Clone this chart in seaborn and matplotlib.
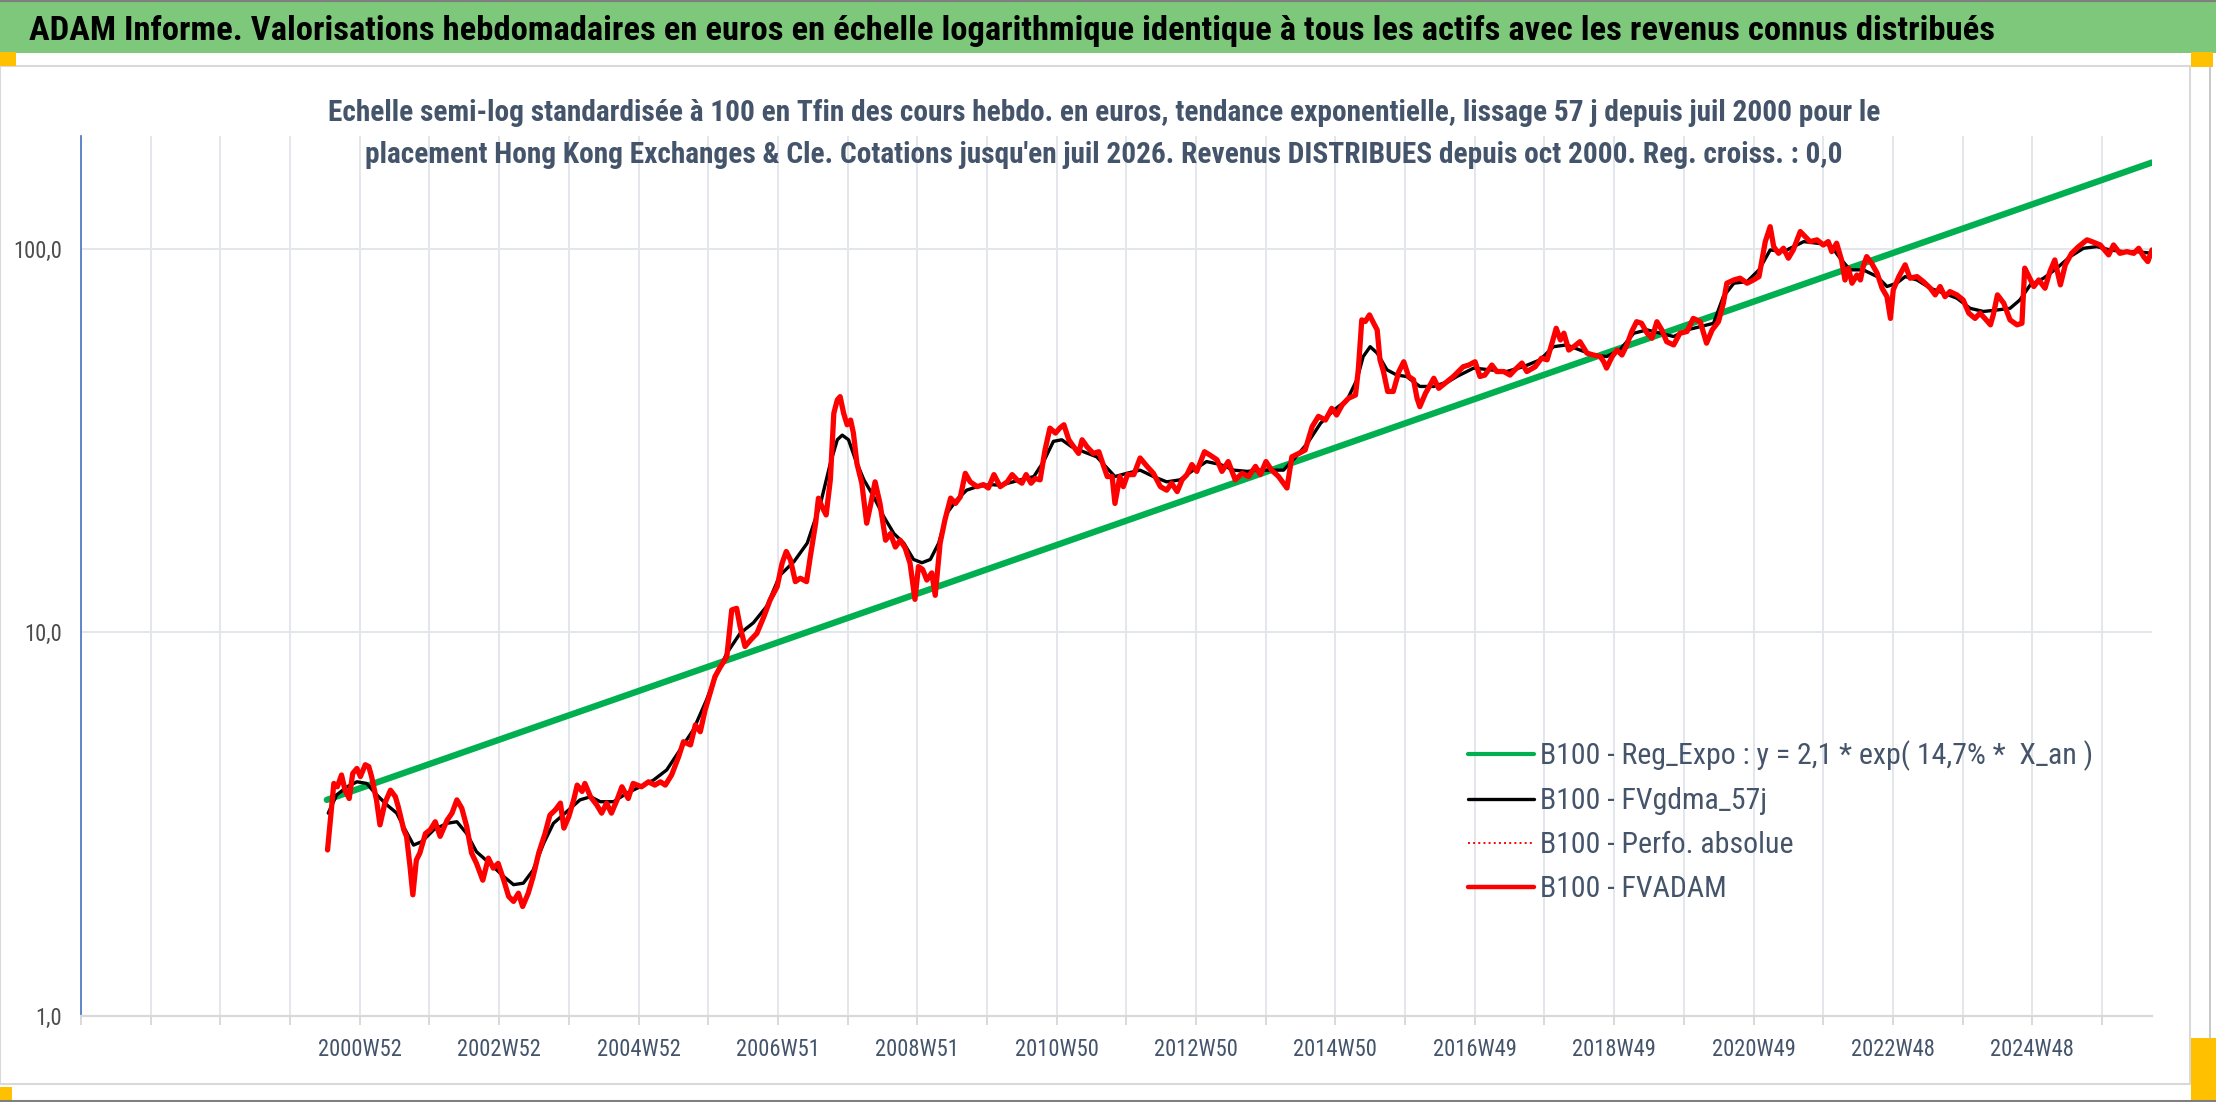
import datetime as dt

import matplotlib
matplotlib.use('Agg')
import matplotlib.dates as mdates
import matplotlib.pyplot as plt
import numpy as np
import pandas as pd
import seaborn as sns
from matplotlib import font_manager
from matplotlib.patches import Rectangle
from matplotlib.lines import Line2D
from matplotlib.ticker import FixedLocator, NullLocator

W, H = 2216, 1102

title = ("ADAM Informe. Valorisations hebdomadaires en euros en échelle logarithmique "
         "identique à tous les actifs avec les revenus connus distribués")
subtitle_1 = ("Echelle semi-log standardisée à 100 en Tfin des cours hebdo. en euros, tendance "
              "exponentielle, lissage 57 j depuis juil 2000 pour le")
subtitle_2 = ("placement Hong Kong Exchanges & Cle. Cotations jusqu'en juil 2026. Revenus "
              "DISTRIBUES depuis oct 2000. Reg. croiss. : 0,0")

week_labels = ['2000W52', '2002W52', '2004W52', '2006W51', '2008W51', '2010W50', '2012W50',
               '2014W50', '2016W49', '2018W49', '2020W49', '2022W48', '2024W48']
y_ticks = [1, 10, 100]
y_tick_labels = ['1,0', '10,0', '100,0']

legend_labels = ['B100 - Reg_Expo : y = 2,1 * exp( 14,7% *  X_an )',
                 'B100 - FVgdma_57j',
                 'B100 - Perfo. absolue',
                 'B100 - FVADAM']

# exponential trend (two ends of the regression line)
reg_t = [2000.51, 2026.61]
reg_v = [3.66, 168.0]

# FVADAM, weekly values (decimal years)
red_t = [
    2000.52, 2000.57, 2000.61, 2000.66, 2000.72, 2000.77, 2000.83, 2000.88, 2000.94, 2000.99,
    2001.06, 2001.11, 2001.15, 2001.22, 2001.27, 2001.34, 2001.42, 2001.49, 2001.53, 2001.61,
    2001.65, 2001.70, 2001.74, 2001.79, 2001.84, 2001.92, 2001.99, 2002.06, 2002.13, 2002.23,
    2002.30, 2002.37, 2002.44, 2002.51, 2002.58, 2002.65, 2002.74, 2002.82, 2002.89, 2002.96,
    2003.04, 2003.11, 2003.18, 2003.25, 2003.31, 2003.39, 2003.46, 2003.54, 2003.63, 2003.70,
    2003.78, 2003.85, 2003.90, 2003.97, 2004.04, 2004.09, 2004.16, 2004.20, 2004.28, 2004.37,
    2004.44, 2004.51, 2004.58, 2004.66, 2004.73, 2004.82, 2004.89, 2005.01, 2005.11, 2005.20,
    2005.28, 2005.35, 2005.44, 2005.54, 2005.61, 2005.71, 2005.78, 2005.85, 2005.92, 2005.99,
    2006.06,
    2006.14, 2006.23, 2006.30, 2006.37, 2006.42, 2006.49, 2006.57, 2006.66, 2006.76, 2006.85,
    2006.95, 2007.02, 2007.08, 2007.14, 2007.21, 2007.28, 2007.37, 2007.42, 2007.50, 2007.54,
    2007.59, 2007.65, 2007.71, 2007.76, 2007.81, 2007.85, 2007.90, 2007.95, 2008.00, 2008.04,
    2008.09, 2008.16, 2008.23, 2008.29, 2008.35, 2008.42, 2008.50, 2008.57, 2008.64, 2008.71,
    2008.78, 2008.85, 2008.92, 2008.97, 2009.03, 2009.09, 2009.16, 2009.21, 2009.28, 2009.35,
    2009.43, 2009.50, 2009.57, 2009.64, 2009.71, 2009.81, 2009.90, 2009.97, 2010.05,
    2010.14, 2010.24, 2010.31, 2010.38, 2010.45, 2010.51, 2010.58, 2010.64, 2010.71, 2010.78,
    2010.85, 2010.93, 2010.99, 2011.05, 2011.12, 2011.19, 2011.26, 2011.31, 2011.38, 2011.47,
    2011.55, 2011.62, 2011.67, 2011.74, 2011.78, 2011.85, 2011.90, 2011.96, 2012.05, 2012.14,
    2012.24, 2012.33, 2012.43, 2012.52, 2012.59, 2012.67, 2012.74, 2012.81, 2012.88, 2012.95,
    2013.06, 2013.14, 2013.24, 2013.31, 2013.40, 2013.50, 2013.60, 2013.69, 2013.79, 2013.86,
    2013.94, 2014.02, 2014.12, 2014.24, 2014.31, 2014.41, 2014.50, 2014.60, 2014.69, 2014.79,
    2014.88, 2014.95, 2015.03, 2015.12, 2015.22, 2015.26, 2015.31, 2015.36, 2015.42, 2015.48,
    2015.53, 2015.57, 2015.62, 2015.68, 2015.76, 2015.84, 2015.91, 2015.98, 2016.05, 2016.10,
    2016.14, 2016.22, 2016.34, 2016.41,
    2016.53, 2016.62, 2016.69, 2016.76, 2016.84, 2016.93, 2017.00, 2017.07, 2017.17, 2017.24,
    2017.34, 2017.43, 2017.50, 2017.60, 2017.67, 2017.79, 2017.88, 2017.96, 2018.03, 2018.09,
    2018.15, 2018.20, 2018.27, 2018.34, 2018.43, 2018.53, 2018.62, 2018.72, 2018.77, 2018.81,
    2018.89, 2018.96, 2019.03, 2019.10, 2019.17, 2019.24, 2019.31, 2019.39, 2019.46, 2019.53,
    2019.60, 2019.67, 2019.77, 2019.86, 2019.96, 2020.05, 2020.15, 2020.24, 2020.32, 2020.41,
    2020.48, 2020.53, 2020.63, 2020.72, 2020.82, 2020.91, 2020.99, 2021.08, 2021.15, 2021.20,
    2021.27, 2021.34, 2021.41, 2021.48,
    2021.58, 2021.65, 2021.72, 2021.82, 2021.91, 2021.98, 2022.03, 2022.10, 2022.17, 2022.22,
    2022.27, 2022.32, 2022.39, 2022.44, 2022.48, 2022.53, 2022.60, 2022.68, 2022.75, 2022.82,
    2022.87, 2022.91, 2022.99, 2023.08, 2023.15, 2023.25, 2023.34, 2023.44, 2023.51, 2023.58,
    2023.65, 2023.72, 2023.82, 2023.91, 2023.99, 2024.08, 2024.15, 2024.22, 2024.30, 2024.34,
    2024.40, 2024.49, 2024.58, 2024.68, 2024.75, 2024.79, 2024.84, 2024.92, 2024.99, 2025.08,
    2025.15, 2025.22, 2025.30, 2025.37, 2025.46, 2025.56, 2025.68, 2025.75, 2025.87, 2025.99,
    2026.06, 2026.15, 2026.25, 2026.35, 2026.42, 2026.49, 2026.55, 2026.61,
]
red_v = [
    2.71, 3.38, 4.04, 3.96, 4.25, 3.88, 3.69, 4.29, 4.42, 4.21,
    4.52, 4.47, 4.21, 3.66, 3.15, 3.59, 3.88, 3.73, 3.52, 3.06,
    2.94, 2.45, 2.07, 2.55, 2.66, 2.99, 3.06, 3.21, 2.94, 3.24,
    3.38, 3.66, 3.48, 3.12, 2.66, 2.50, 2.26, 2.58, 2.43, 2.50,
    2.26, 2.05, 1.99, 2.09, 1.93, 2.09, 2.31, 2.66, 2.99, 3.34,
    3.45, 3.59, 3.09, 3.31, 3.66, 4.00, 3.85, 4.04, 3.73, 3.55,
    3.38, 3.59, 3.38, 3.66, 3.96, 3.69, 4.04, 3.96, 4.08, 4.00,
    4.08, 4.00, 4.25, 4.74, 5.19, 5.09, 5.74, 5.51, 6.28, 6.94,
    7.67,
    8.15, 8.65, 11.45, 11.56, 10.36, 9.19, 9.56, 9.95, 11.0, 12.16,
    13.17, 15.15, 16.26, 15.46, 13.57, 13.85, 13.57, 15.61, 19.27, 22.39,
    21.29, 20.25, 25.0, 37.3, 40.4, 41.2, 37.3, 34.8, 35.8, 33.1,
    27.6, 24.5, 19.27, 21.7, 24.7, 21.7, 17.4, 18.1, 16.7, 17.4,
    16.6, 15.15, 12.2, 14.85, 14.6, 13.7, 14.3, 12.5, 17.1, 19.7,
    22.4, 21.7, 22.6, 26.0, 24.7, 24.0, 24.3, 23.8, 25.8,
    24.0, 24.7, 25.8, 25.0, 24.5, 25.8, 24.5, 25.2, 25.0, 29.9,
    34.1, 33.1, 34.1, 34.8, 31.8, 30.5, 29.3, 31.8, 30.5, 29.3,
    29.6, 27.1, 25.5, 25.5, 21.7, 25.5, 24.0, 25.8, 25.8, 28.5,
    27.1, 26.0, 24.0, 23.5, 24.5, 23.3, 25.0, 25.8, 27.4, 26.3,
    29.6, 29.0, 28.2, 26.3, 27.9, 25.0, 26.0, 25.5, 27.1, 25.8,
    27.9, 26.5, 25.5, 23.8, 28.7, 29.3, 29.9, 34.4, 36.6, 35.8,
    38.4, 36.9, 39.2, 40.8, 41.6, 48.4, 65.3, 64.7, 67.3, 64.0,
    61.5, 51.4, 47.9, 42.5, 42.5, 47.9, 50.8, 46.5, 45.6, 40.8,
    38.8, 42.0, 46.0, 43.3,
    45.1, 46.5, 47.9, 49.3, 49.8, 50.8, 46.5, 46.9, 49.8, 47.9,
    47.9, 46.9, 48.4, 50.4, 47.9, 49.3, 51.9, 51.4, 56.8, 62.1,
    57.9, 60.3, 54.5, 55.6, 57.3, 53.5, 52.9, 52.4, 50.8, 48.9,
    52.4, 54.5, 52.9, 56.2, 60.9, 64.6, 64.0, 60.3, 58.5, 64.6,
    61.5, 57.3, 56.2, 60.3, 60.9, 65.9, 64.6, 56.8, 61.5, 64.6,
    72.2, 81.4, 83.0, 83.9, 81.4, 83.0, 84.7, 104.5, 114.3, 101.4,
    97.4, 100.4, 94.6, 99.4,
    111.0, 107.7, 104.5, 105.6, 102.4, 104.5, 98.4, 103.5, 93.6, 83.0,
    89.0, 81.4, 85.5, 83.0, 89.9, 95.5, 91.8, 86.4, 79.0, 75.1,
    65.9, 78.2, 84.7, 90.9, 83.9, 84.7, 82.2, 79.0, 75.9, 79.8,
    75.1, 77.4, 75.9, 73.6, 68.0, 65.9, 68.0, 65.9, 63.4, 67.3,
    75.9, 72.2, 65.3, 63.4, 64.0, 89.1, 85.5, 79.8, 83.0, 79.0,
    87.3, 93.6, 80.6, 90.9, 97.4, 101.4, 105.6, 104.5, 102.4, 96.5,
    102.4, 97.4, 98.4, 97.4, 100.4, 95.5, 92.7, 99.4,
]

# FVgdma_57j, smoothed curve
black_t = [
    2000.53, 2000.65, 2000.80, 2000.94, 2001.08, 2001.20, 2001.37, 2001.51, 2001.63, 2001.75,
    2001.87, 2002.04, 2002.23, 2002.37, 2002.51, 2002.65, 2002.84, 2003.04, 2003.18, 2003.32,
    2003.46, 2003.61, 2003.75, 2003.94, 2004.13, 2004.28, 2004.42, 2004.61, 2004.80, 2004.99,
    2005.18, 2005.37, 2005.56, 2005.75, 2005.94,
    2006.04, 2006.23, 2006.42, 2006.61, 2006.80, 2006.99, 2007.19, 2007.38, 2007.57, 2007.71,
    2007.81, 2007.88, 2007.97, 2008.07, 2008.19, 2008.33, 2008.47, 2008.62, 2008.76, 2008.90,
    2009.02, 2009.14, 2009.26, 2009.38, 2009.52, 2009.66, 2009.81, 2010.00,
    2010.14, 2010.43, 2010.62, 2010.76, 2010.90, 2011.02, 2011.16, 2011.33, 2011.52, 2011.67,
    2011.78, 2011.95, 2012.14, 2012.33, 2012.52, 2012.71, 2012.90, 2013.09, 2013.29, 2013.48,
    2013.67, 2013.86, 2014.05, 2014.19, 2014.33, 2014.53, 2014.72, 2014.91, 2015.10, 2015.24,
    2015.33, 2015.43, 2015.53, 2015.67, 2015.81, 2015.95, 2016.14, 2016.34, 2016.55,
    2016.67, 2016.91, 2017.15, 2017.38, 2017.62, 2017.86, 2018.05, 2018.24, 2018.43, 2018.62,
    2018.81, 2019.00, 2019.20, 2019.39, 2019.58, 2019.77, 2019.96, 2020.15, 2020.34, 2020.48,
    2020.63, 2020.82, 2020.99, 2021.15, 2021.34,
    2021.63, 2021.82, 2022.01, 2022.15, 2022.29, 2022.48, 2022.68, 2022.82, 2022.96, 2023.08,
    2023.25, 2023.44, 2023.63, 2023.82, 2024.01, 2024.20, 2024.39, 2024.58, 2024.72, 2024.87,
    2025.06, 2025.25, 2025.44, 2025.63, 2025.82, 2026.01, 2026.20, 2026.39, 2026.61,
]
black_v = [
    3.38, 3.77, 3.96, 4.08, 4.04, 3.81, 3.55, 3.38, 3.06, 2.79,
    2.85, 3.06, 3.18, 3.21, 2.99, 2.68, 2.50, 2.31, 2.20, 2.22,
    2.40, 2.82, 3.18, 3.41, 3.66, 3.73, 3.62, 3.62, 3.81, 3.96,
    4.12, 4.38, 4.94, 5.57, 6.67,
    7.45, 8.83, 9.95, 10.6, 11.7, 14.1, 15.3, 17.1, 21.7, 27.6,
    31.8, 32.7, 31.8, 28.2, 25.0, 22.6, 20.1, 18.1, 17.1, 15.5,
    15.2, 15.5, 17.1, 20.5, 22.2, 23.5, 24.0, 24.3,
    24.2, 25.0, 25.5, 27.9, 31.5, 31.8, 30.5, 29.6, 28.7, 26.8,
    25.5, 26.0, 26.5, 25.5, 24.7, 25.0, 26.5, 27.9, 27.4, 26.5,
    26.3, 26.5, 26.5, 26.5, 28.2, 31.1, 35.1, 38.0, 40.4, 45.6,
    52.4, 55.6, 53.5, 48.4, 46.9, 46.5, 43.8, 43.8, 45.1,
    46.5, 48.9, 48.4, 47.9, 49.3, 51.4, 55.6, 56.2, 54.5, 52.9,
    52.4, 54.5, 60.3, 61.5, 60.3, 59.1, 61.5, 62.7, 64.0, 75.1,
    81.4, 82.2, 88.2, 99.4, 98.4,
    104.5, 103.5, 102.4, 94.6, 88.2, 88.2, 84.7, 79.8, 81.4, 84.7,
    83.0, 79.0, 76.7, 74.4, 70.0, 68.7, 69.3, 70.0, 73.6, 80.6,
    83.9, 89.1, 95.5, 100.4, 101.4, 99.4, 98.4, 98.4, 97.4,
]

# Perfo. absolue lies under FVADAM in the picture
perfo_t = red_t
perfo_v = red_v


def to_dates(years):
    years = np.asarray(years, dtype=float)
    return pd.Timestamp('1997-01-01') + pd.to_timedelta((years - 1997.0) * 365.25, unit='D')


def iso_monday(label):
    year, week = label.split('W')
    return pd.Timestamp(dt.date.fromisocalendar(int(year), int(week), 1))


sns.set_theme(style='white')

fig = plt.figure(figsize=(W / 100, H / 100), dpi=100)
fig.patch.set_facecolor('white')
renderer = fig.canvas.get_renderer()

# pick the narrowest installed sans family (the original uses a Calibri-like face)
installed = {f.name for f in font_manager.fontManager.ttflist}
candidates = ['Liberation Sans Narrow', 'Roboto Condensed', 'Lato', 'Roboto',
              'Liberation Sans', 'Open Sans', 'Noto Sans']
best, best_w = 'DejaVu Sans', None
for fam in candidates:
    if fam not in installed:
        continue
    t = fig.text(0, 0, title, fontsize=20, family=fam)
    w = t.get_window_extent(renderer=renderer).width
    t.remove()
    if best_w is None or w < best_w:
        best, best_w = fam, w
plt.rcParams['font.family'] = [best, 'DejaVu Sans']


def fit_size(text, width_px, weight='normal'):
    t = fig.text(0, 0, text, fontsize=20, weight=weight)
    w = t.get_window_extent(renderer=renderer).width
    t.remove()
    return 20 * width_px / w


# frame pieces around the chart (spreadsheet look)
fig.add_artist(Rectangle((0, 1 - 53 / H), 1, 53 / H, transform=fig.transFigure,
                         facecolor='#7DC87B', edgecolor='none', zorder=-3))
fig.add_artist(Rectangle((0, 1 - 1084 / H), 2190 / W, (1084 - 66) / H, transform=fig.transFigure,
                         facecolor='white', edgecolor='#D9D9D9', linewidth=1.5, zorder=-2))
fig.add_artist(Line2D([0, 1], [1 - 1 / H, 1 - 1 / H], transform=fig.transFigure,
                      color='#7F7F7F', linewidth=1.5))
fig.add_artist(Line2D([0, 1], [1 / H, 1 / H], transform=fig.transFigure,
                      color='#7F7F7F', linewidth=1.5))
fig.add_artist(Line2D([2210 / W, 2210 / W], [1 - 1038 / H, 1 - 67 / H], transform=fig.transFigure,
                      color='#BFBFBF', linewidth=1.2))
for (x0, y0, w0, h0) in [(0, 52, 16, 14), (2191, 52, 22, 15), (0, 1087, 12, 13), (2191, 1038, 25, 62)]:
    fig.add_artist(Rectangle((x0 / W, 1 - (y0 + h0) / H), w0 / W, h0 / H, transform=fig.transFigure,
                             facecolor='#FFC000', edgecolor='none', zorder=-1))

title_fs = fit_size(title, 1952, 'bold')
fig.text(1012 / W, 1 - 40 / H, title, fontsize=title_fs, weight='bold', color='black',
         ha='center', va='baseline')
sub_fs = fit_size(subtitle_1, 1551, 'bold')
fig.text(1104 / W, 1 - 121 / H, subtitle_1, fontsize=sub_fs, weight='bold', color='#44546A',
         ha='center', va='baseline')
fig.text(1104 / W, 1 - 163 / H, subtitle_2, fontsize=sub_fs, weight='bold', color='#44546A',
         ha='center', va='baseline')

ax = fig.add_axes([81 / W, 1 - 1016 / H, (2152 - 81) / W, (1016 - 136) / H])
ax.set_facecolor('white')

reg = pd.DataFrame({'date': to_dates(reg_t), 'value': reg_v})
black = pd.DataFrame({'date': to_dates(black_t), 'value': black_v})
perfo = pd.DataFrame({'date': to_dates(perfo_t), 'value': perfo_v})
red = pd.DataFrame({'date': to_dates(red_t), 'value': red_v})

sns.lineplot(data=reg, x='date', y='value', ax=ax, color='#00B050', linewidth=4.6,
             estimator=None, sort=False, label=legend_labels[0], zorder=3)
sns.lineplot(data=black, x='date', y='value', ax=ax, color='black', linewidth=2.4,
             estimator=None, sort=False, label=legend_labels[1], zorder=4)
sns.lineplot(data=perfo, x='date', y='value', ax=ax, color='#FF0000', linewidth=1.2, linestyle=':',
             estimator=None, sort=False, label=legend_labels[2], zorder=4.5)
sns.lineplot(data=red, x='date', y='value', ax=ax, color='#FF0000', linewidth=3.8,
             estimator=None, sort=False, label=legend_labels[3], zorder=5)

ax.set_yscale('log')
ax.set_ylim(1, 197)
label_dates = [iso_monday(l) for l in week_labels]
grid0 = label_dates[0] - pd.Timedelta(days=4 * 364)
ax.set_xlim(grid0, red['date'].iloc[-1])

ax.yaxis.set_major_locator(FixedLocator(y_ticks))
ax.yaxis.set_minor_locator(NullLocator())
ax.set_yticklabels(y_tick_labels)

# one vertical grid line per 52 weeks, a label every second one
major = list(mdates.date2num(label_dates))
all_grid = [mdates.date2num(grid0 + pd.Timedelta(days=364 * k)) for k in range(0, 30)]
minor = [g for g in all_grid if min(abs(g - m) for m in major) > 30]
ax.xaxis.set_major_locator(FixedLocator(major))
ax.xaxis.set_minor_locator(FixedLocator(minor))
ax.set_xticklabels(week_labels)
ax.set_xlabel('')
ax.set_ylabel('')

tick_fs = fit_size('2000W52', 84)
ax.set_axisbelow(True)
ax.grid(True, axis='x', which='both', color='#E3E6EB', linewidth=1.4)
ax.grid(True, axis='y', which='major', color='#E3E6EB', linewidth=1.4)
ax.tick_params(axis='x', which='both', direction='out', length=6.5, width=1.4, color='#D9D9D9',
               pad=9.5, labelsize=tick_fs, labelcolor='#44546A', bottom=True)
ax.tick_params(axis='y', which='both', length=0, pad=13.5, labelsize=tick_fs, labelcolor='#4D4D4D',
               left=True)

for side in ['top', 'right']:
    ax.spines[side].set_visible(False)
ax.spines['left'].set_color('#4472C4')
ax.spines['left'].set_linewidth(1.2)
ax.spines['bottom'].set_color('#D9D9D9')
ax.spines['bottom'].set_linewidth(1.6)

leg_fs = fit_size(legend_labels[0], 554)
fs_px = leg_fs * 100 / 72
handles, labels = ax.get_legend_handles_labels()
leg = ax.legend(handles, labels, loc='center left', bbox_to_anchor=(1468 / W, 1 - 822 / H),
                bbox_transform=fig.transFigure, frameon=False, fontsize=leg_fs,
                handlelength=66 / fs_px, handletextpad=6 / fs_px,
                labelspacing=(50.5 - 1.15 * fs_px) / fs_px, borderpad=0, borderaxespad=0,
                labelcolor='#44546A')
for line, lw in zip(leg.get_lines(), [3.0, 2.4, 1.4, 3.2]):
    line.set_linewidth(lw)

fig.savefig('out.png', dpi=100)
